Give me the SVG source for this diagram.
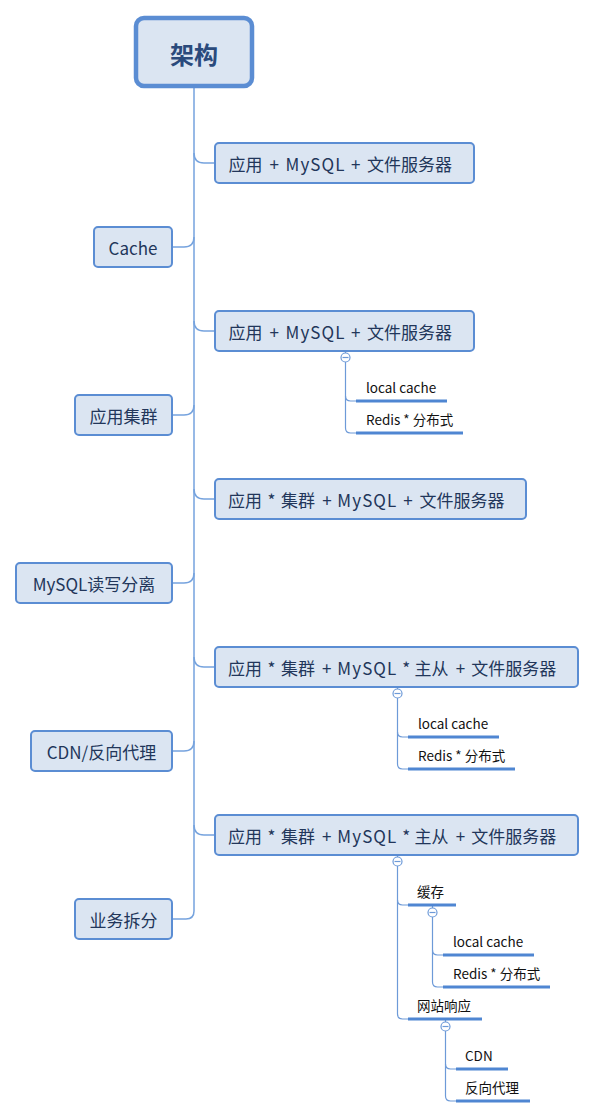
<svg xmlns="http://www.w3.org/2000/svg" width="595" height="1118" viewBox="0 0 595 1118">
<style>
.node{fill:#dbe5f2;stroke:#5b8dd3;stroke-width:2}
.root{fill:#dbe5f2;stroke:#5b8dd3;stroke-width:4.5}
.lbl{font-family:"Noto Sans CJK SC","Noto Sans",sans-serif;font-size:17px;fill:#22365a;text-anchor:middle;dominant-baseline:central}
.rl{text-anchor:start}
.rlbl{font-family:"Noto Sans CJK SC",sans-serif;font-size:24px;font-weight:bold;fill:#2a4a7c;text-anchor:middle;dominant-baseline:central}
.sub{font-family:"Noto Sans CJK SC","Noto Sans",sans-serif;font-size:13.5px;fill:#111}
.conn{fill:none;stroke:#76a3de;stroke-width:1.5}
.sconn{fill:none;stroke:#6d9ad8;stroke-width:1.2}
.ul{stroke:#4f86d2;stroke-width:3}
.col{fill:#fff;stroke:#6d9ad8;stroke-width:1.2}
.colm{stroke:#6d9ad8;stroke-width:1.2}
</style>
<rect width="595" height="1118" fill="#fff"/>
<g id="connectors">
<path class="conn" d="M194,87 V911 Q194,919 186,919 H172"/>
<path class="conn" d="M194,153 Q194,163 204,163 H215"/>
<path class="conn" d="M194,237 Q194,247 184,247 H172"/>
<path class="conn" d="M194,321 Q194,331 204,331 H215"/>
<path class="conn" d="M194,405 Q194,415 184,415 H172"/>
<path class="conn" d="M194,489 Q194,499 204,499 H215"/>
<path class="conn" d="M194,573 Q194,583 184,583 H172"/>
<path class="conn" d="M194,657 Q194,667 204,667 H215"/>
<path class="conn" d="M194,741 Q194,751 184,751 H172"/>
<path class="conn" d="M194,825 Q194,835 204,835 H215"/>
<path class="sconn" d="M345.5,351 V353"/>
<path class="sconn" d="M345.5,362 V396 Q345.5,401 350.5,401 H356"/>
<path class="sconn" d="M345.5,396 V428 Q345.5,433 350.5,433 H356"/>
<path class="sconn" d="M397.5,687 V689"/>
<path class="sconn" d="M397.5,698 V732 Q397.5,737 402.5,737 H408"/>
<path class="sconn" d="M397.5,732 V764 Q397.5,769 402.5,769 H408"/>
<path class="sconn" d="M397.5,855 V857"/>
<path class="sconn" d="M397.5,866 V900 Q397.5,905 402.5,905 H408"/>
<path class="sconn" d="M397.5,900 V1014 Q397.5,1019 402.5,1019 H408"/>
<path class="sconn" d="M432.5,905 V908"/>
<path class="sconn" d="M432.5,917 V950 Q432.5,955 437.5,955 H443"/>
<path class="sconn" d="M432.5,950 V982 Q432.5,987 437.5,987 H443"/>
<path class="sconn" d="M445.5,1019 V1022"/>
<path class="sconn" d="M445.5,1031 V1064 Q445.5,1069 450.5,1069 H456"/>
<path class="sconn" d="M445.5,1064 V1096 Q445.5,1101 450.5,1101 H456"/>
</g>
<g id="root"><rect class="root" x="136" y="18" width="116" height="68" rx="8"/><text class="rlbl" x="194" y="53">架构</text></g>
<g id="r1"><rect class="node" x="215" y="143" width="259" height="40" rx="4"/><text class="lbl rl" y="163"><tspan x="228.5">应用</tspan> <tspan x="269.5">+</tspan> <tspan x="285.5" textLength="59" lengthAdjust="spacing">MySQL</tspan> <tspan x="351">+</tspan> <tspan x="367">文件服务器</tspan></text></g>
<g id="r2"><rect class="node" x="215" y="311" width="259" height="40" rx="4"/><text class="lbl rl" y="331"><tspan x="228.5">应用</tspan> <tspan x="269.5">+</tspan> <tspan x="285.5" textLength="59" lengthAdjust="spacing">MySQL</tspan> <tspan x="351">+</tspan> <tspan x="367">文件服务器</tspan></text></g>
<g id="r3"><rect class="node" x="215" y="479" width="311" height="40" rx="4"/><text class="lbl rl" y="499"><tspan x="228">应用</tspan> <tspan x="267.5">*</tspan> <tspan x="281">集群</tspan> <tspan x="322.3">+</tspan> <tspan x="337.3" textLength="59" lengthAdjust="spacing">MySQL</tspan> <tspan x="403.3">+</tspan> <tspan x="419.5">文件服务器</tspan></text></g>
<g id="r4"><rect class="node" x="215" y="647" width="363" height="40" rx="4"/><text class="lbl rl" y="667"><tspan x="228">应用</tspan> <tspan x="267.5">*</tspan> <tspan x="281">集群</tspan> <tspan x="322">+</tspan> <tspan x="337.3" textLength="59" lengthAdjust="spacing">MySQL</tspan> <tspan x="402.3">*</tspan> <tspan x="414.5">主从</tspan> <tspan x="455.7">+</tspan> <tspan x="471.2">文件服务器</tspan></text></g>
<g id="r5"><rect class="node" x="215" y="815" width="363" height="40" rx="4"/><text class="lbl rl" y="835"><tspan x="228">应用</tspan> <tspan x="267.5">*</tspan> <tspan x="281">集群</tspan> <tspan x="322">+</tspan> <tspan x="337.3" textLength="59" lengthAdjust="spacing">MySQL</tspan> <tspan x="402.3">*</tspan> <tspan x="414.5">主从</tspan> <tspan x="455.7">+</tspan> <tspan x="471.2">文件服务器</tspan></text></g>
<g id="l1"><rect class="node" x="94" y="227" width="78" height="40" rx="4"/><text class="lbl" x="133" y="247">Cache</text></g>
<g id="l2"><rect class="node" x="75" y="395" width="97" height="40" rx="4"/><text class="lbl" x="123.5" y="415">应用集群</text></g>
<g id="l3"><rect class="node" x="16" y="563" width="156" height="40" rx="4"/><text class="lbl" x="94" y="583">MySQL读写分离</text></g>
<g id="l4"><rect class="node" x="31" y="731" width="141" height="40" rx="4"/><text class="lbl" x="101.5" y="751">CDN/反向代理</text></g>
<g id="l5"><rect class="node" x="75" y="899" width="97" height="40" rx="4"/><text class="lbl" x="123.5" y="919">业务拆分</text></g>
<g id="c2"><circle class="col" cx="345.5" cy="357.5" r="4.5"/><line class="colm" x1="342.5" y1="357.5" x2="348.5" y2="357.5"/></g>
<g id="r2a"><line class="ul" x1="356" y1="401" x2="447" y2="401"/><text class="sub" x="366" y="393">local cache</text></g>
<g id="r2b"><line class="ul" x1="356" y1="433" x2="463" y2="433"/><text class="sub" x="366" y="425">Redis * 分布式</text></g>
<g id="c4"><circle class="col" cx="397.5" cy="693.5" r="4.5"/><line class="colm" x1="394.5" y1="693.5" x2="400.5" y2="693.5"/></g>
<g id="r4a"><line class="ul" x1="408" y1="737" x2="499" y2="737"/><text class="sub" x="418" y="729">local cache</text></g>
<g id="r4b"><line class="ul" x1="408" y1="769" x2="515" y2="769"/><text class="sub" x="418" y="761">Redis * 分布式</text></g>
<g id="c5"><circle class="col" cx="397.5" cy="861.5" r="4.5"/><line class="colm" x1="394.5" y1="861.5" x2="400.5" y2="861.5"/></g>
<g id="r5a"><line class="ul" x1="408" y1="905" x2="456" y2="905"/><text class="sub" x="417" y="897">缓存</text></g>
<g id="c5a"><circle class="col" cx="432.5" cy="912.5" r="4.5"/><line class="colm" x1="429.5" y1="912.5" x2="435.5" y2="912.5"/></g>
<g id="r5a1"><line class="ul" x1="443" y1="955" x2="534" y2="955"/><text class="sub" x="453" y="947">local cache</text></g>
<g id="r5a2"><line class="ul" x1="443" y1="987" x2="550" y2="987"/><text class="sub" x="453" y="979">Redis * 分布式</text></g>
<g id="r5b"><line class="ul" x1="408" y1="1019" x2="482" y2="1019"/><text class="sub" x="417" y="1011">网站响应</text></g>
<g id="c5b"><circle class="col" cx="445.5" cy="1026.5" r="4.5"/><line class="colm" x1="442.5" y1="1026.5" x2="448.5" y2="1026.5"/></g>
<g id="r5b1"><line class="ul" x1="456" y1="1069" x2="508" y2="1069"/><text class="sub" x="465" y="1061">CDN</text></g>
<g id="r5b2"><line class="ul" x1="456" y1="1101" x2="530" y2="1101"/><text class="sub" x="465" y="1093">反向代理</text></g>
</svg>
